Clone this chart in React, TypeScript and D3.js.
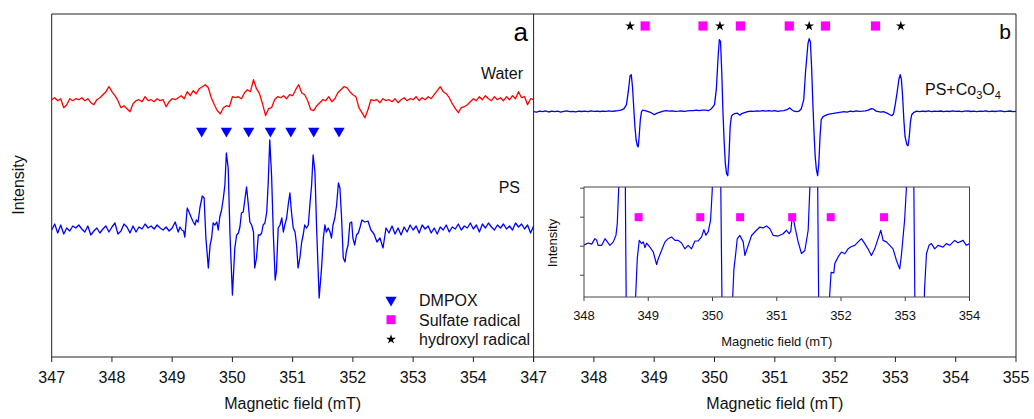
import React from "react";
import * as d3 from "d3";

// ---------- DATA ----------
const fieldTicks = [347, 348, 349, 350, 351, 352, 353, 354, 355];
const insetTicks = [348, 349, 350, 351, 352, 353, 354];

// Panel a: water (red) [field mT, intensity a.u.]
const waterSpectrum: [number, number][] = [
  [347.0, 2], [347.05, 4], [347.1, 1], [347.15, 3], [347.2, -6], [347.25, -3], [347.3, 3], [347.35, 1],
  [347.4, 3], [347.45, 2], [347.5, 4], [347.55, 1], [347.6, 3], [347.65, -1], [347.7, -3], [347.75, 2],
  [347.8, 4], [347.85, 7], [347.9, 10], [347.95, 15], [348.0, 10], [348.05, 6], [348.1, 1], [348.15, -6],
  [348.2, -4], [348.25, -7], [348.3, -10], [348.35, -2], [348.4, 1], [348.45, 2], [348.5, 0], [348.55, 5],
  [348.6, 1], [348.65, 2], [348.7, 0], [348.75, 3], [348.8, 1], [348.85, 2], [348.9, -5], [348.95, 0],
  [349.0, 3], [349.05, 2], [349.1, 4], [349.15, 6], [349.2, 3], [349.25, 10], [349.3, 6], [349.35, 11],
  [349.4, 8], [349.45, 13], [349.5, 15], [349.55, 17], [349.6, 14], [349.65, 4], [349.7, -3], [349.75, -9],
  [349.8, -12], [349.85, -6], [349.9, -4], [349.95, -5], [350.0, 5], [350.05, 4], [350.1, 5], [350.15, 3],
  [350.2, 9], [350.25, 12], [350.3, 10], [350.35, 22], [350.4, 13], [350.45, 8], [350.5, -2], [350.55, -14],
  [350.6, -7], [350.65, -6], [350.7, 2], [350.75, 5], [350.8, 4], [350.85, 6], [350.9, 3], [350.95, 7],
  [351.0, 6], [351.05, 12], [351.1, 17], [351.15, 9], [351.2, 7], [351.25, 1], [351.3, -8], [351.35, -9],
  [351.4, -4], [351.45, -1], [351.5, 2], [351.55, 1], [351.6, 5], [351.65, 0], [351.7, 3], [351.75, 9],
  [351.8, 12], [351.85, 15], [351.9, 14], [351.95, 10], [352.0, 7], [352.05, 5], [352.1, -6], [352.15, -11],
  [352.2, -16], [352.25, -8], [352.3, 2], [352.35, 1], [352.4, 2], [352.45, -1], [352.5, 3], [352.55, 1],
  [352.6, 2], [352.65, 0], [352.7, 3], [352.75, -1], [352.8, 2], [352.85, 4], [352.9, 1], [352.95, 3],
  [353.0, 2], [353.05, 5], [353.1, 1], [353.15, 4], [353.2, 2], [353.25, 5], [353.3, 3], [353.35, 7],
  [353.4, 11], [353.45, 15], [353.5, 10], [353.55, 8], [353.6, 4], [353.65, -2], [353.7, -7], [353.75, -11],
  [353.8, -6], [353.85, -5], [353.9, -3], [353.95, 0], [354.0, 3], [354.05, 1], [354.1, 5], [354.15, 2],
  [354.2, 6], [354.25, 3], [354.3, 1], [354.35, 5], [354.4, 2], [354.45, 4], [354.5, 1], [354.55, 5],
  [354.6, 2], [354.65, 6], [354.7, 3], [354.75, 10], [354.8, 4], [354.85, 5], [354.9, -3], [354.95, 3],
  [355.0, 2],
];

// Panel a: PS (blue)
const psSpectrum: [number, number][] = [
  [347.0, 0], [347.05, 6], [347.1, -3], [347.15, 5], [347.2, -4], [347.25, 2], [347.3, -1], [347.35, 4],
  [347.4, 2], [347.45, 5], [347.5, 1], [347.55, -2], [347.6, 4], [347.65, -5], [347.7, -1], [347.75, 2],
  [347.8, -3], [347.85, 1], [347.9, 4], [347.95, -2], [348.0, 3], [348.05, 7], [348.1, -4], [348.15, -1],
  [348.2, 6], [348.25, 3], [348.3, -3], [348.35, 4], [348.4, -2], [348.45, 3], [348.5, 1], [348.55, 6],
  [348.6, 2], [348.65, 4], [348.7, 1], [348.75, 5], [348.8, 2], [348.85, 0], [348.9, 3], [348.95, -1],
  [349.0, 2], [349.05, 8], [349.1, -2], [349.13, 3], [349.16, 0], [349.19, -1], [349.21, -7], [349.25, 22],
  [349.28, 18], [349.32, 12], [349.35, 8], [349.38, 5], [349.4, 10], [349.43, 8], [349.46, 22], [349.5, 34],
  [349.53, 32], [349.56, -8], [349.6, -38], [349.63, -15], [349.655, -8], [349.68, 7], [349.71, 5], [349.74, 8],
  [349.765, 0], [349.79, 13], [349.82, 20], [349.85, 32], [349.875, 45], [349.9, 77], [349.93, 62], [349.96, -5],
  [350.0, -65], [350.04, -18], [350.07, -5], [350.1, -3], [350.125, 3], [350.15, 17], [350.18, 18], [350.21, 32],
  [350.235, 43], [350.26, 28], [350.29, 8], [350.32, 5], [350.35, -2], [350.37, -38], [350.4, -28], [350.43, -5],
  [350.46, -5], [350.485, -3], [350.51, 5], [350.54, 7], [350.57, 18], [350.595, 48], [350.62, 90], [350.65, 55],
  [350.68, -5], [350.71, -50], [350.73, -42], [350.76, 2], [350.79, 5], [350.82, 12], [350.845, -2], [350.87, 5],
  [350.9, 12], [350.93, 27], [350.955, 37], [350.98, 18], [351.01, 2], [351.04, -2], [351.065, -15], [351.09, -38],
  [351.12, -28], [351.15, -12], [351.175, -5], [351.2, 5], [351.23, 2], [351.26, 5], [351.29, 28], [351.315, 45],
  [351.34, 75], [351.37, 58], [351.4, -2], [351.44, -68], [351.48, -38], [351.51, -8], [351.535, 5], [351.56, -2],
  [351.59, 2], [351.62, -2], [351.645, -8], [351.67, 5], [351.7, 12], [351.73, 25], [351.76, 47], [351.785, 42],
  [351.81, 15], [351.84, -28], [351.87, -32], [351.89, -22], [351.92, -15], [351.95, 7], [351.98, 8], [352.0, -8],
  [352.03, -15], [352.06, -5], [352.09, -3], [352.12, 3], [352.15, 10], [352.2, 8], [352.25, 9], [352.3, 0],
  [352.35, -4], [352.4, -12], [352.45, -8], [352.5, -18], [352.55, 2], [352.6, -3], [352.65, 4], [352.7, -4],
  [352.75, 2], [352.8, -5], [352.85, 3], [352.9, -2], [352.95, 5], [353.0, 0], [353.05, 4], [353.1, -3],
  [353.15, 5], [353.2, 1], [353.25, 4], [353.3, -3], [353.35, 2], [353.4, -4], [353.45, 3], [353.5, 0],
  [353.55, 5], [353.6, -2], [353.65, 3], [353.7, 1], [353.75, 6], [353.8, 0], [353.85, 4], [353.9, 2],
  [353.95, 7], [354.0, 1], [354.05, 5], [354.1, -2], [354.15, 6], [354.2, 2], [354.25, 7], [354.3, 3],
  [354.35, 0], [354.4, 5], [354.45, 2], [354.5, 6], [354.55, 1], [354.6, 4], [354.65, 0], [354.7, 7],
  [354.75, 3], [354.8, 6], [354.85, 1], [354.9, 5], [354.95, -3], [355.0, 4],
];

// Panel b: PS + Co3O4 (blue)
const coSpectrum: [number, number][] = [
  [347.0, 0], [347.05, -0.5], [347.1, 0.5], [347.15, 0], [347.2, 0.8], [347.25, -0.3], [347.3, 0.5], [347.35, 0],
  [347.4, 0.6], [347.45, -0.4], [347.5, 0.3], [347.55, 0.8], [347.6, 0], [347.65, 0.4], [347.7, -0.2], [347.75, 0.5],
  [347.8, 0.2], [347.85, 0.6], [347.9, 0], [347.95, 0.8], [348.0, 0.3], [348.05, 0.5], [348.1, 0.2], [348.15, 0.6],
  [348.2, 0.3], [348.25, 0.8], [348.3, 0.4], [348.35, 0.7], [348.4, 1], [348.45, 1.5], [348.5, 3], [348.54, 7],
  [348.57, 20], [348.6, 36], [348.62, 37], [348.64, 25], [348.66, 5], [348.68, -15], [348.7, -28], [348.72, -34],
  [348.735, -35], [348.75, -25], [348.77, -8], [348.79, 0], [348.81, 1.5], [348.85, 1], [348.9, 0], [348.95, -1],
  [349.0, -3], [349.05, -1.5], [349.1, -0.5], [349.15, 0.5], [349.2, 1], [349.25, 0.5], [349.3, 0.8], [349.35, 0.4],
  [349.4, 0.5], [349.45, 0.7], [349.5, 0.3], [349.55, 0.8], [349.6, 1], [349.65, 1], [349.7, 1.5], [349.75, 1],
  [349.8, 1.5], [349.85, 1.5], [349.9, 1], [349.95, 3], [350.0, 7], [350.03, 22], [350.06, 55], [350.08, 72],
  [350.1, 70], [350.12, 40], [350.14, 0], [350.16, -30], [350.18, -52], [350.2, -62], [350.22, -64], [350.24, -45],
  [350.26, -15], [350.28, -5], [350.3, -3], [350.33, -2], [350.38, -1.5], [350.42, -3.5], [350.45, -2], [350.5, -1],
  [350.55, 0], [350.6, 0.5], [350.65, 0.3], [350.7, 0.8], [350.75, 0.5], [350.8, 1], [350.85, 0.5], [350.9, 1],
  [350.95, 0.5], [351.0, 1], [351.05, 0.3], [351.1, 0.8], [351.15, 1], [351.2, 2], [351.25, 3.8], [351.28, 2],
  [351.32, 0.5], [351.36, 0], [351.4, 0.5], [351.44, 3], [351.48, 12], [351.51, 40], [351.55, 68], [351.57, 73],
  [351.59, 70], [351.61, 45], [351.63, 10], [351.65, -20], [351.67, -45], [351.69, -58], [351.71, -64], [351.73, -52],
  [351.75, -25], [351.77, -8], [351.8, -5], [351.85, -3.5], [351.9, -2.5], [351.95, -2], [352.0, -1.5], [352.05, -1],
  [352.1, -0.5], [352.15, 0], [352.2, -0.5], [352.25, 0.5], [352.3, 0], [352.35, 0.8], [352.4, 0.3], [352.45, 0.5],
  [352.5, 0.8], [352.55, 1.5], [352.6, 3], [352.64, 2.5], [352.68, 0.5], [352.72, 0], [352.76, -0.5], [352.8, 0],
  [352.84, -1], [352.88, -2], [352.91, -3], [352.94, -4], [352.97, -2], [353.0, 8], [353.03, 20], [353.06, 33],
  [353.08, 37], [353.1, 32], [353.12, 15], [353.14, -8], [353.16, -25], [353.19, -33], [353.21, -34], [353.23, -25],
  [353.25, -10], [353.27, -3], [353.3, -1], [353.35, 0.5], [353.4, 0], [353.45, 0.6], [353.5, 0.2], [353.55, 0.8],
  [353.6, 0], [353.65, 0.5], [353.7, 0.3], [353.75, 0.7], [353.8, 0], [353.85, 0.5], [353.9, 0.2], [353.95, 0.8],
  [354.0, 0.3], [354.05, 0.6], [354.1, 0], [354.15, 0.5], [354.2, 0.8], [354.25, 0.2], [354.3, 0.6], [354.35, 0],
  [354.4, 0.5], [354.45, 0.3], [354.5, 0.8], [354.55, 0], [354.6, 0.6], [354.65, 0.2], [354.7, 0.5], [354.75, 0.8],
  [354.8, 0], [354.85, 0.4], [354.9, 0.7], [354.95, 0], [355.0, 0.3],
];

// Inset of panel b (magnified)
const insetSpectrum: [number, number][] = [
  [347.99, 2.03], [348.067, 2.11], [348.12, 2.07], [348.17, 2.26], [348.197, 2.21], [348.22, 2.03], [348.275, 2.03],
  [348.327, 2.26], [348.363, 2.15], [348.404, 2.03], [348.456, 2.15], [348.498, 2.38], [348.518, 2.78], [348.539, 3.93],
  [348.56, 6], [348.6, 9], [348.64, 5], [348.664, -2], [348.715, -6], [348.767, -3], [348.798, 0], [348.83, 1.6],
  [348.86, 2.2], [348.897, 2.09], [348.923, 2.15], [348.949, 1.95], [348.975, 2.11], [349.026, 1.97], [349.078, 1.8],
  [349.13, 1.37], [349.156, 1.57], [349.208, 1.86], [349.26, 2.15], [349.31, 2.26], [349.363, 2.32], [349.415, 2.2],
  [349.467, 2.2], [349.518, 2.11], [349.57, 1.91], [349.62, 2.03], [349.674, 1.91], [349.726, 2.18], [349.778, 2.18],
  [349.83, 2.32], [349.866, 2.57], [349.897, 2.38], [349.934, 2.5], [349.97, 2.9], [349.996, 3.93], [350.02, 6],
  [350.07, 12], [350.12, 6], [350.157, -2], [350.22, -8], [350.27, -4], [350.3, -0.5], [350.333, 1.2], [350.364, 1.8],
  [350.385, 2.25], [350.426, 2.37], [350.478, 2.15], [350.504, 1.68], [350.556, 2.03], [350.608, 2.37], [350.685, 2.55],
  [350.737, 2.66], [350.789, 2.63], [350.84, 2.7], [350.893, 2.6], [350.945, 2.37], [351.022, 2.35], [351.1, 2.43],
  [351.152, 2.55], [351.193, 2.43], [351.219, 2.52], [351.245, 3.1], [351.28, 2.7], [351.333, 2.15], [351.385, 1.75],
  [351.437, 1.85], [351.489, 2.55], [351.515, 4.0], [351.54, 7], [351.592, 12], [351.63, 6], [351.66, -2], [351.722, -8],
  [351.784, -4], [351.815, 0], [351.846, 1.1], [351.888, 1.08], [351.903, 1.4], [351.955, 1.63], [352.007, 1.8],
  [352.06, 1.74], [352.11, 1.91], [352.163, 1.99], [352.215, 2.03], [352.266, 2.15], [352.318, 2.26], [352.37, 2.09],
  [352.42, 1.91], [352.473, 1.68], [352.525, 1.91], [352.577, 2.26], [352.619, 2.55], [352.655, 2.2], [352.707, 2.15],
  [352.759, 2.03], [352.81, 1.91], [352.863, 1.51], [352.914, 1.22], [352.94, 1.68], [352.99, 2.9], [353.018, 4.0],
  [353.054, 7], [353.096, 10], [353.13, 5], [353.158, -2], [353.215, -6], [353.277, -2], [353.3, 0.5], [353.33, 1.74],
  [353.37, 2.03], [353.407, 2.09], [353.459, 1.91], [353.51, 2.03], [353.588, 1.97], [353.64, 2.09], [353.692, 2.03],
  [353.77, 2.2], [353.822, 2.12], [353.9, 2.2], [353.95, 2.03], [354.003, 2.09],
];

// Marker positions (mT)
const dmpoxLines = [349.49, 349.9, 350.27, 350.63, 350.97, 351.35, 351.77];
const hydroxylLines = [348.6, 350.09, 351.57, 353.09];
const sulfateLines = [348.85, 349.81, 350.43, 351.24, 351.84, 352.67];

const legendItems = [
  { label: "DMPOX", symbol: "triangle", color: "#0000ff" },
  { label: "Sulfate radical", symbol: "square", color: "#ff00ff" },
  { label: "hydroxyl radical", symbol: "star", color: "#000000" },
];

// ---------- LAYOUT ----------
const W = 1034, H = 419;
const FONT = "'Liberation Sans', Arial, Helvetica, sans-serif";
const top = 14, bottom = 357;
const aLeft = 51.7, aRight = 533.6, bRight = 1016;
const AX = "#222";

const xA = d3.scaleLinear().domain([347, 355]).range([aLeft, aRight]);
const xB = d3.scaleLinear().domain([347, 355]).range([aRight, bRight]);
// intensity scale shared by both panels (arbitrary units)
const yI = d3.scaleLinear().domain([0, bottom - top]).range([bottom, top]);
const WATER_OFFSET = 255.3;
const PS_OFFSET = 127;
const CO_OFFSET = 245.3;
const DMPOX_ROW = 226;
const B_MARK_ROW = 331;

const inL = 584, inR = 969.5, inT = 187, inB = 297;
const xIn = d3.scaleLinear().domain([348, 354]).range([inL, inR]);
const yIn = d3.scaleLinear().domain([0.25, 4.04]).range([inB, inT]);
const insetYTicks = [1, 2, 3, 4];

function symPath(kind: string, size: number) {
  const t = kind === "triangle" ? d3.symbolTriangle : kind === "square" ? d3.symbolSquare : d3.symbolStar;
  return d3.symbol().type(t).size(size)() as string;
}

function Marker({ kind, x, y, size, color }: { kind: string; x: number; y: number; size: number; color: string }) {
  const rot = kind === "triangle" ? " rotate(180)" : "";
  return <path d={symPath(kind, size)} transform={`translate(${x},${y})${rot}`} fill={color} />;
}

export default function App() {
  const lineA = (off: number) =>
    d3.line<[number, number]>().x((d) => xA(d[0])).y((d) => yI(d[1] + off));
  const lineB = d3.line<[number, number]>().x((d) => xB(d[0])).y((d) => yI(d[1] + CO_OFFSET));
  const lineIn = d3.line<[number, number]>().x((d) => xIn(d[0])).y((d) => yIn(d[1]));

  return (
    <svg width={W} height={H} style={{ position: "absolute", left: 0, top: 0, background: "#fff" }} fontFamily={FONT}>
      <defs>
        <clipPath id="clipA"><rect x={aLeft} y={top} width={aRight - aLeft} height={bottom - top} /></clipPath>
        <clipPath id="clipB"><rect x={aRight} y={top} width={bRight - aRight} height={bottom - top} /></clipPath>
        <clipPath id="clipIn"><rect x={inL} y={inT} width={inR - inL} height={inB - inT} /></clipPath>
      </defs>
      <rect x={0} y={0} width={W} height={H} fill="#fff" />

      {/* Panel a traces */}
      <g clipPath="url(#clipA)">
        <path d={lineA(WATER_OFFSET)(waterSpectrum) as string} fill="none" stroke="#ff0000" strokeWidth={1.3} strokeLinejoin="round" />
        <path d={lineA(PS_OFFSET)(psSpectrum) as string} fill="none" stroke="#0000ff" strokeWidth={1.3} strokeLinejoin="round" />
      </g>
      {dmpoxLines.map((f, i) => (
        <Marker key={"t" + i} kind="triangle" x={xA(f)} y={yI(DMPOX_ROW)} size={55} color="#0000ff" />
      ))}

      {/* Panel b trace */}
      <g clipPath="url(#clipB)">
        <path d={lineB(coSpectrum) as string} fill="none" stroke="#0000ff" strokeWidth={1.3} strokeLinejoin="round" />
      </g>
      {hydroxylLines.map((f, i) => (
        <Marker key={"s" + i} kind="star" x={xB(f)} y={yI(B_MARK_ROW)} size={30} color="#000" />
      ))}
      {sulfateLines.map((f, i) => (
        <Marker key={"q" + i} kind="square" x={xB(f)} y={yI(B_MARK_ROW)} size={85} color="#ff00ff" />
      ))}

      {/* Inset */}
      <rect x={inL} y={inT} width={inR - inL} height={inB - inT} fill="#fff" />
      <g clipPath="url(#clipIn)">
        <path d={lineIn(insetSpectrum) as string} fill="none" stroke="#0000ff" strokeWidth={1.2} strokeLinejoin="round" />
      </g>
      {sulfateLines.map((f, i) => (
        <Marker key={"iq" + i} kind="square" x={xIn(f)} y={yIn(3)} size={64} color="#ff00ff" />
      ))}
      <rect x={inL} y={inT} width={inR - inL} height={inB - inT} fill="none" stroke="#444" strokeWidth={1} />
      {insetTicks.map((t) => (
        <g key={"ix" + t}>
          <line x1={xIn(t)} x2={xIn(t)} y1={inB} y2={inB + 4} stroke="#444" />
          <text x={xIn(t)} y={inB + 23} fontSize={13} textAnchor="middle" fill="#111">{t}</text>
        </g>
      ))}
      {insetYTicks.map((t) => (
        <line key={"iy" + t} x1={inL - 4} x2={inL} y1={yIn(t)} y2={yIn(t)} stroke="#444" />
      ))}
      <text x={(inL + inR) / 2} y={346} fontSize={13} textAnchor="middle" fill="#111">Magnetic field (mT)</text>
      <text transform={`translate(557,243) rotate(-90)`} fontSize={13} textAnchor="middle" fill="#111">Intensity</text>

      {/* Frames and axes */}
      <line x1={aLeft} x2={aLeft} y1={top} y2={bottom} stroke={AX} />
      <line x1={aLeft} x2={bRight} y1={top} y2={top} stroke={AX} />
      <line x1={aRight} x2={aRight} y1={top} y2={bottom} stroke={AX} />
      <line x1={bRight} x2={bRight} y1={top} y2={bottom} stroke={AX} />
      <line x1={aLeft} x2={bRight} y1={bottom} y2={bottom} stroke={AX} />
      {fieldTicks.map((t) => (
        <g key={"ax" + t}>
          <line x1={xA(t)} x2={xA(t)} y1={bottom} y2={bottom + 5} stroke={AX} />
          {t < 355 && (
            <text x={xA(t)} y={383} fontSize={16} textAnchor="middle" fill="#111">{t}</text>
          )}
        </g>
      ))}
      {fieldTicks.map((t) => (
        <g key={"bx" + t}>
          <line x1={xB(t)} x2={xB(t)} y1={bottom} y2={bottom + 5} stroke={AX} />
          <text x={xB(t)} y={383} fontSize={16} textAnchor="middle" fill="#111">{t}</text>
        </g>
      ))}
      <text x={(aLeft + aRight) / 2} y={409} fontSize={16} textAnchor="middle" fill="#111">Magnetic field (mT)</text>
      <text x={(aRight + bRight) / 2} y={409} fontSize={16} textAnchor="middle" fill="#111">Magnetic field (mT)</text>
      <text transform={`translate(24,185) rotate(-90)`} fontSize={16} textAnchor="middle" fill="#111">Intensity</text>

      {/* Labels */}
      <text x={528} y={41} fontSize={26} textAnchor="end" fill="#000">a</text>
      <text x={1011} y={39} fontSize={21} textAnchor="end" fill="#000">b</text>
      <text x={523} y={79} fontSize={16} textAnchor="end" fill="#111">Water</text>
      <text x={520} y={193} fontSize={16} textAnchor="end" fill="#111">PS</text>
      <text x={925} y={95} fontSize={16} fill="#111">
        PS+Co<tspan fontSize={11} dy={4}>3</tspan><tspan dy={-4}>O</tspan><tspan fontSize={11} dy={4}>4</tspan>
      </text>

      {/* Legend */}
      {legendItems.map((it, i) => (
        <g key={it.label}>
          <Marker kind={it.symbol} x={391} y={300 + i * 19.7} size={it.symbol === "star" ? 30 : it.symbol === "square" ? 81 : 55} color={it.color} />
          <text x={419} y={306 + i * 19.7} fontSize={16} fill="#111">{it.label}</text>
        </g>
      ))}
    </svg>
  );
}
